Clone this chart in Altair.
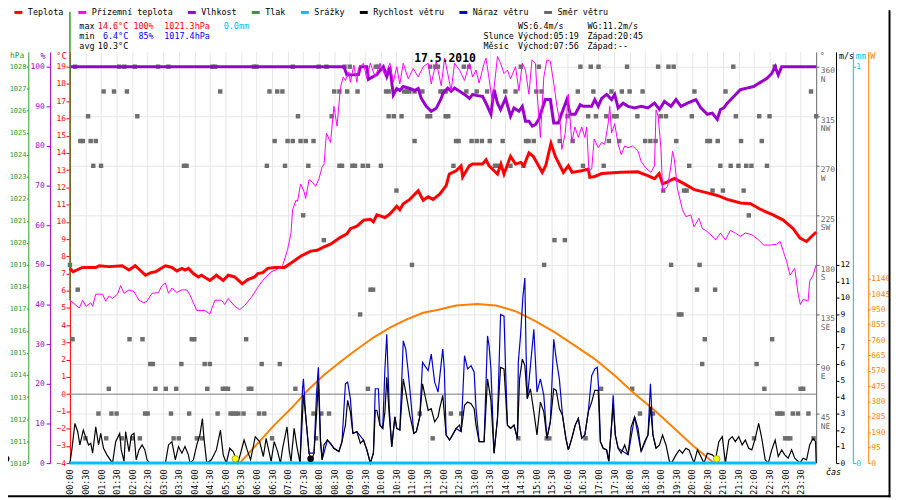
import altair as alt
import pandas as pd

MONO = "DejaVu Sans Mono"
FS = 8.5
AFS = 8

# ---------------- data ----------------
series_names = ["Teplota", "Přízemní teplota", "Vlhkost", "Tlak", "Srážky",
                "Rychlost větru", "Náraz větru", "Směr větru"]
series_colors = ["#ff0000", "#ff00ff", "#9900cc", "#339933", "#00bfff",
                 "#000000", "#0000cc", "#666666"]

# (hour, °C)
temperature = [(0.0, 7.3), (0.1, 7.1), (0.4, 7.35), (0.83, 7.35), (0.94, 7.45), (1.26, 7.4), (1.68, 7.45),
               (1.9, 7.2), (2.1, 7.45), (2.43, 6.9), (2.6, 7.05), (2.75, 7.1), (3.07, 7.45), (3.28, 7.35),
               (3.44, 7.15), (3.6, 7.3), (3.7, 7.2), (3.81, 7.3), (3.97, 7.0), (4.13, 6.8), (4.23, 6.9),
               (4.5, 6.6), (4.71, 6.9), (4.93, 6.6), (5.09, 6.9), (5.3, 6.8), (5.54, 6.4), (5.72, 6.65),
               (5.94, 6.8), (6.04, 7.0), (6.2, 7.05), (6.36, 7.3), (6.58, 7.35), (6.9, 7.35), (7.1, 7.6),
               (7.42, 8.0), (7.74, 8.3), (7.95, 8.35), (8.17, 8.55), (8.38, 8.7), (8.7, 9.1), (8.91, 9.3),
               (9.02, 9.6), (9.23, 9.75), (9.45, 10.1), (9.66, 10.15), (9.76, 10.0), (9.87, 10.4),
               (10.13, 10.25), (10.29, 10.45), (10.51, 10.9), (10.61, 10.7), (10.72, 11.05), (10.93, 11.3),
               (11.2, 11.8), (11.36, 11.25), (11.52, 11.45), (11.68, 11.3), (11.89, 11.6), (12.1, 12.1),
               (12.2, 12.77), (12.42, 12.96), (12.58, 13.25), (12.63, 12.6), (12.84, 13.25), (12.95, 13.35),
               (13.27, 13.35), (13.38, 13.6), (13.48, 13.25), (13.64, 12.96), (13.75, 12.77), (13.86, 13.35),
               (13.96, 12.77), (14.17, 13.8), (14.33, 13.35), (14.5, 13.45), (14.6, 13.25), (14.76, 14.0),
               (14.9, 13.8), (15.19, 12.87), (15.3, 13.25), (15.47, 14.55), (15.61, 13.8), (15.87, 12.87),
               (16.03, 13.25), (16.15, 12.87), (16.46, 12.96), (16.67, 13.06), (16.72, 12.58), (16.88, 12.63),
               (17.1, 12.8), (17.73, 12.87), (18.26, 12.9), (18.58, 12.68), (18.8, 12.5), (18.95, 12.8),
               (19.06, 12.2), (19.2, 12.3), (19.44, 12.52), (19.76, 12.2), (20.08, 11.87), (20.5, 11.68),
               (20.82, 11.53), (21.14, 11.3), (21.57, 11.09), (21.89, 11.05), (22.2, 10.73), (22.63, 10.39),
               (22.94, 10.1), (23.26, 9.6), (23.48, 9.05), (23.69, 8.86), (23.85, 9.15), (24.0, 9.4)]

# (hour, °C)
ground_temperature = [
    (0.0, 5.4), (0.04, 5.39), (0.3, 5.0), (0.41, 5.45), (0.52, 5.1), (0.67, 5.3), (0.73, 5.1), (0.83, 5.8),
    (1.05, 5.8), (1.15, 5.39), (1.26, 5.7), (1.37, 5.55), (1.53, 5.8), (1.63, 6.3), (1.74, 5.85), (1.9, 6.05),
    (2.06, 5.95), (2.22, 5.45), (2.38, 5.3), (2.48, 5.4), (2.64, 5.85), (2.85, 5.9), (2.96, 6.3), (3.07, 6.45),
    (3.17, 5.85), (3.28, 6.15), (3.44, 5.9), (3.6, 6.05), (3.76, 6.05), (3.86, 5.75), (4.08, 4.85), (4.34, 4.85),
    (4.5, 4.65), (4.66, 5.45), (4.87, 5.45), (4.98, 5.2), (5.09, 5.55), (5.3, 5.1), (5.46, 4.9), (5.62, 5.15),
    (5.83, 5.6), (6.04, 6.2), (6.2, 6.6), (6.47, 7.1), (6.68, 7.25), (6.84, 7.45), (7.0, 8.4), (7.11, 9.35),
    (7.16, 10.7), (7.27, 11.25), (7.32, 11.2), (7.42, 12.2), (7.53, 11.75), (7.58, 11.35), (7.69, 12.45),
    (7.8, 12.3), (7.9, 12.05), (8.01, 12.5), (8.12, 13.25), (8.17, 13.3), (8.25, 15.15), (8.38, 14.6),
    (8.49, 16.7), (8.59, 15.55), (8.7, 17.8), (8.79, 18.4), (8.86, 18.2), (8.97, 18.7), (9.02, 18.1),
    (9.13, 19.1), (9.23, 18.1), (9.28, 18.9), (9.44, 19.2), (9.55, 18.3), (9.66, 19.2), (9.82, 18.4),
    (9.97, 19.2), (10.13, 18.5), (10.29, 19.2), (10.4, 18.1), (10.51, 19.0), (10.61, 18.0), (10.72, 19.2),
    (10.88, 18.3), (11.04, 18.9), (11.2, 18.4), (11.36, 19.0), (11.52, 19.2), (11.62, 18.0), (11.78, 19.3),
    (11.94, 17.9), (12.05, 19.5), (12.15, 18.6), (12.26, 17.6), (12.37, 19.2), (12.53, 18.8), (12.69, 18.2),
    (12.85, 19.2), (12.95, 18.4), (13.06, 18.8), (13.16, 18.05), (13.32, 19.2), (13.38, 19.5), (13.48, 18.3),
    (13.59, 16.9), (13.75, 19.6), (13.85, 19.2), (13.96, 18.6), (14.07, 18.8), (14.17, 18.3), (14.33, 19.0),
    (14.44, 17.6), (14.55, 19.2), (14.65, 18.8), (14.76, 17.4), (14.86, 19.4), (14.97, 19.2), (15.02, 17.6),
    (15.13, 14.9), (15.24, 18.4), (15.34, 19.4), (15.45, 19.3), (15.56, 18.05), (15.66, 16.7), (15.77, 15.7),
    (15.82, 14.2), (15.93, 15.15), (16.03, 17.4), (16.14, 14.6), (16.24, 15.5), (16.35, 14.9), (16.46, 15.5),
    (16.56, 14.9), (16.62, 15.5), (16.69, 12.96), (16.78, 13.06), (16.86, 14.8), (16.99, 14.3), (17.1, 14.6),
    (17.2, 14.5), (17.31, 15.7), (17.36, 16.7), (17.42, 15.15), (17.52, 15.7), (17.63, 14.5), (17.73, 13.9),
    (17.84, 14.4), (17.95, 14.3), (18.1, 14.4), (18.27, 14.1), (18.37, 13.5), (18.53, 13.1), (18.69, 12.87),
    (18.8, 13.25), (18.85, 16.5), (18.92, 16.1), (19.01, 14.2), (19.06, 11.8), (19.22, 12.05), (19.33, 13.25),
    (19.38, 14.1), (19.44, 13.6), (19.54, 11.9), (19.7, 10.7), (19.81, 10.3), (19.97, 10.4), (20.07, 9.7),
    (20.23, 10.2), (20.34, 9.6), (20.45, 9.5), (20.61, 9.25), (20.77, 8.95), (20.92, 9.35), (21.08, 8.95),
    (21.24, 9.5), (21.4, 9.35), (21.56, 9.15), (21.72, 9.35), (21.93, 9.25), (22.15, 8.95), (22.31, 8.65),
    (22.52, 8.65), (22.73, 8.7), (22.84, 8.86), (22.94, 8.3), (23.05, 7.7), (23.16, 6.9), (23.31, 7.3),
    (23.42, 5.8), (23.49, 5.2), (23.58, 5.5), (23.74, 5.4), (23.79, 6.55), (23.9, 6.9), (24.0, 7.5)]

# (hour, %)
humidity = [(0.0, 100), (8.81, 100), (8.91, 97.9), (9.23, 98), (9.28, 98), (9.34, 100), (9.55, 100), (9.6, 96.8),
            (9.87, 98), (9.97, 99), (10.08, 100), (10.19, 97.5), (10.29, 99.9), (10.4, 92.9), (10.51, 94.5),
            (10.61, 94), (10.72, 95), (10.93, 94.5), (11.09, 94), (11.2, 94.5), (11.3, 92), (11.46, 90),
            (11.62, 88.75), (11.78, 89.5), (11.94, 92), (12.0, 93.3), (12.15, 94.6), (12.26, 93.8), (12.37, 94.6),
            (12.53, 93.8), (12.69, 93), (12.85, 92), (12.95, 93), (13.11, 92.7), (13.27, 92.5), (13.38, 90.8),
            (13.54, 88), (13.64, 94.2), (13.75, 90.8), (13.85, 89.2), (14.01, 92), (14.17, 87.5), (14.28, 89.6),
            (14.44, 88.75), (14.55, 90), (14.65, 86.25), (14.76, 86.25), (14.87, 85), (14.97, 85.4),
            (15.08, 86.7), (15.18, 89.2), (15.29, 91.7), (15.45, 91.7), (15.56, 85.8), (15.71, 85.8),
            (15.82, 88.3), (15.98, 91.7), (16.09, 88), (16.25, 88), (16.41, 90.4), (16.51, 90), (16.78, 90),
            (16.88, 91.7), (16.99, 90), (17.1, 92), (17.26, 93), (17.42, 91.7), (17.52, 93), (17.63, 89.6),
            (17.79, 90.8), (17.95, 90), (18.16, 89.6), (18.37, 90), (18.59, 89.6), (18.8, 90.8), (18.96, 89.2),
            (19.12, 91.25), (19.33, 90), (19.49, 91.7), (19.65, 90), (19.86, 90.8), (20.13, 91.7), (20.29, 89.6),
            (20.5, 88), (20.66, 88.3), (20.82, 86.7), (20.92, 89.2), (21.03, 89.6), (21.14, 90.8), (21.35, 92.5),
            (21.56, 94.2), (21.77, 94.6), (21.99, 95), (22.15, 95.8), (22.41, 97), (22.57, 98.3), (22.68, 100),
            (22.78, 97.9), (22.89, 100), (24.0, 100)]

# (hour, hPa) – the pressure trace only appears as a vertical stroke at midnight
pressure = [(0.0, 1030.5), (0.0, 1017.4)]

# (hour, mm)
rain = [(0.0, 0.0), (24.0, 0.0)]

# (hour, m/s)
wind_speed = [
    (0.0, 0), (0.06, 0.8), (0.16, 2.4), (0.25, 1.9), (0.32, 1.1), (0.43, 2.0), (0.52, 1.5), (0.6, 1.1),
    (0.67, 1.2), (0.73, 0.6), (0.83, 2.2), (0.92, 1.1), (0.99, 1.8), (1.08, 0.9), (1.19, 0.5), (1.26, 0.3),
    (1.37, 0), (1.47, 1.3), (1.6, 1.8), (1.65, 0.8), (1.74, 0.1), (1.79, 1.9), (1.9, 0.7), (1.98, 1.7),
    (2.06, 1.8), (2.13, 0.2), (2.22, 0.8), (2.32, 1.1), (2.41, 0.8), (2.48, 0.2), (2.56, 0), (3.07, 0),
    (3.17, 1.1), (3.28, 1.3), (3.39, 0.2), (3.49, 1.0), (3.6, 0.6), (3.7, 1.0), (3.81, 0.5), (3.86, 0),
    (3.97, 0.2), (4.08, 1.1), (4.18, 1.7), (4.26, 2.7), (4.31, 1.5), (4.4, 0), (4.55, 0.2), (4.71, 0.8),
    (4.84, 2.0), (4.93, 0.5), (5.03, 0), (5.14, 0.9), (5.25, 0.7), (5.4, 0), (5.49, 0.6), (5.6, 1.4),
    (5.7, 0.8), (5.81, 0.2), (5.96, 1.6), (6.1, 1.3), (6.22, 0.4), (6.31, 1.5), (6.47, 0.1), (6.57, 1.3),
    (6.68, 0.7), (6.77, 0), (6.84, 0.9), (6.98, 2.2), (7.05, 0.8), (7.11, 0.1), (7.21, 2.1), (7.3, 1.0),
    (7.4, 0), (7.51, 4.1), (7.58, 2.9), (7.69, 0.6), (7.76, 0.1), (7.85, 0.6), (7.93, 2.9), (7.99, 4.9),
    (8.06, 1.3), (8.11, 0.2), (8.17, 1.1), (8.28, 1.4), (8.38, 1.2), (8.49, 0.9), (8.65, 0.7), (8.75, 1.3),
    (8.86, 2.3), (8.93, 3.8), (9.02, 3.1), (9.1, 1.8), (9.23, 1.9), (9.34, 1.2), (9.44, 1.4), (9.55, 0.8),
    (9.66, 0), (9.76, 0.6), (9.82, 3.2), (9.87, 3.2), (9.97, 2.3), (10.06, 2.1), (10.13, 3.1), (10.19, 5.2),
    (10.27, 2.9), (10.35, 1.0), (10.45, 2.8), (10.51, 2.1), (10.61, 2.0), (10.72, 5.1), (10.8, 4.3),
    (10.93, 2.9), (11.06, 1.8), (11.14, 1.9), (11.25, 2.8), (11.34, 4.8), (11.44, 3.9), (11.52, 3.2),
    (11.62, 3.3), (11.73, 2.5), (11.84, 2.8), (11.89, 3.3), (11.99, 4.1), (12.1, 1.7), (12.21, 1.4),
    (12.31, 1.7), (12.42, 2.1), (12.53, 2.3), (12.58, 1.9), (12.69, 3.5), (12.79, 3.7), (12.9, 3.6),
    (13.0, 3.3), (13.06, 2.3), (13.16, 1.3), (13.32, 1.3), (13.43, 5.1), (13.54, 3.8), (13.64, 0.6),
    (13.75, 2.7), (13.85, 5.8), (13.96, 5.7), (14.07, 2.3), (14.17, 2.1), (14.28, 2.3), (14.39, 1.5),
    (14.46, 5.1), (14.55, 6.3), (14.63, 5.9), (14.71, 3.9), (14.81, 4.5), (14.92, 3.1), (15.02, 1.7),
    (15.13, 3.7), (15.24, 3.1), (15.34, 1.5), (15.45, 2.5), (15.56, 4.5), (15.64, 4.4), (15.74, 3.3),
    (15.84, 2.9), (15.95, 1.5), (16.03, 0.8), (16.14, 1.5), (16.25, 2.3), (16.35, 2.7), (16.46, 1.5),
    (16.56, 1.7), (16.67, 3.1), (16.78, 3.7), (16.88, 4.4), (16.99, 4.4), (17.06, 1.3), (17.15, 0.9),
    (17.26, 0.8), (17.33, 0.1), (17.42, 2.3), (17.47, 3.5), (17.54, 1.7), (17.63, 0.9), (17.73, 0.6),
    (17.84, 1.1), (17.95, 0.5), (18.05, 2.2), (18.16, 2.8), (18.27, 2.1), (18.37, 0.7), (18.48, 1.3),
    (18.59, 1.7), (18.67, 3.4), (18.75, 1.7), (18.85, 0.9), (18.96, 1.1), (19.06, 1.7), (19.17, 1.1),
    (19.28, 0.1), (19.35, 0), (19.49, 0.5), (19.6, 0.8), (19.7, 0.6), (19.81, 0.9), (19.91, 0.8), (20.07, 0),
    (20.18, 0.8), (20.29, 0.4), (20.39, 0), (20.5, 0.6), (20.66, 0.5), (20.77, 0.3), (20.87, 1.3),
    (20.98, 1.6), (21.08, 0), (21.19, 1.4), (21.3, 1.6), (21.4, 1.3), (21.51, 1.6), (21.62, 1.1), (21.72, 1.4),
    (21.83, 0.9), (21.93, 0.8), (22.04, 1.5), (22.15, 2.4), (22.25, 1.5), (22.36, 0.2), (22.46, 0),
    (22.57, 0.8), (22.68, 1.4), (22.78, 0.4), (22.89, 0.8), (22.99, 0.5), (23.1, 0.3), (23.21, 0.8),
    (23.31, 0.3), (23.48, 0), (23.58, 0.3), (23.69, 0.2), (23.79, 1.1), (23.9, 1.5), (23.98, 1.3), (24.0, 0)]

# (hour, m/s)
wind_gust = [
    (7.4, 0), (7.48, 4.5), (7.51, 5.1), (7.58, 2.9), (7.69, 0.6), (7.85, 0.6), (7.93, 4.2), (7.99, 5.8),
    (8.06, 1.3), (8.11, 0.2), (8.28, 1.4), (8.49, 0.9), (8.65, 0.7), (8.75, 1.3), (8.86, 4.8), (8.93, 4.9),
    (9.02, 3.9), (9.1, 1.8), (9.23, 1.9), (9.44, 1.4), (9.55, 0.8), (9.66, 0), (9.76, 0.6), (9.82, 4.5),
    (9.92, 4.5), (9.97, 2.3), (10.06, 2.1), (10.13, 5.7), (10.19, 7.8), (10.27, 3.3), (10.35, 1.0),
    (10.45, 2.8), (10.51, 2.1), (10.61, 2.0), (10.72, 7.4), (10.8, 6.9), (10.87, 5.7), (10.93, 4.5),
    (11.06, 1.8), (11.14, 1.9), (11.25, 2.8), (11.34, 6.1), (11.41, 5.9), (11.52, 5.6), (11.62, 6.6),
    (11.73, 4.9), (11.84, 4.3), (11.99, 6.9), (12.04, 5.7), (12.1, 1.7), (12.21, 1.4), (12.42, 2.1),
    (12.58, 1.9), (12.69, 6.5), (12.79, 5.7), (12.9, 5.9), (13.0, 5.5), (13.06, 3.3), (13.16, 1.3),
    (13.32, 1.3), (13.43, 7.7), (13.48, 7.1), (13.54, 5.7), (13.64, 0.6), (13.75, 2.7), (13.85, 9.0),
    (13.96, 8.9), (14.01, 5.7), (14.07, 2.3), (14.17, 2.1), (14.28, 2.3), (14.39, 1.5), (14.42, 6.1),
    (14.49, 7.7), (14.57, 10.1), (14.63, 11.2), (14.67, 6.7), (14.71, 3.9), (14.81, 5.9), (14.92, 8.1),
    (15.02, 4.3), (15.13, 5.1), (15.24, 4.1), (15.34, 1.5), (15.45, 2.5), (15.56, 7.5), (15.64, 6.3),
    (15.74, 5.1), (15.84, 2.9), (15.95, 1.5), (16.03, 0.8), (16.14, 1.5), (16.25, 2.3), (16.35, 2.7),
    (16.46, 1.5), (16.56, 1.7), (16.67, 3.1), (16.78, 5.3), (16.88, 5.7), (16.96, 5.8), (17.01, 4.3),
    (17.06, 1.3), (17.15, 0.9), (17.26, 0.8), (17.33, 0.1), (17.42, 2.3), (17.47, 4.1), (17.54, 1.7),
    (17.63, 0.9), (17.95, 0.5), (18.16, 2.8), (18.37, 0.7), (18.59, 1.7), (18.67, 4.8), (18.75, 1.7),
    (18.85, 0.9)]

# (hour, W/m2)
solar = [(5.46, 0), (6.04, 122), (6.57, 235), (7.11, 337), (7.64, 449), (8.17, 545), (8.7, 627), (9.23, 704),
         (9.76, 776), (10.29, 837), (10.83, 888), (11.36, 929), (11.78, 945), (12.42, 974), (13.1, 984),
         (13.7, 974), (14.33, 939), (14.97, 878), (15.61, 806), (16.25, 725), (16.88, 643), (17.52, 541),
         (18.16, 429), (18.8, 327), (19.44, 214), (20.07, 102), (20.71, 0)]

# wind direction (degrees) -> minutes of the day when it was recorded
wind_direction = {
    360: [10, 95, 105, 125, 170, 190, 275, 280, 355, 360, 430, 480, 495, 530, 540, 590, 595, 695, 705, 710,
          760, 770, 870, 905, 985, 1005, 1020, 1075, 1135, 1155, 1165, 1280, 1360],
    337.5: [65, 85, 110, 290, 385, 400, 410, 510, 520, 535, 555, 610, 615, 645, 650, 655, 665, 680, 715, 720,
            725, 765, 785, 805, 840, 860, 900, 910, 980, 1010, 1045, 1065, 1080, 1105, 1205, 1265, 1430],
    315: [35, 130, 440, 505, 615, 625, 640, 690, 695, 725, 730, 960, 1000, 1015, 1035, 1050, 1055, 1095,
          1140, 1150, 1200, 1285, 1330, 1350, 1440],
    292.5: [20, 25, 40, 50, 395, 420, 430, 445, 455, 470, 665, 745, 750, 775, 785, 795, 810, 835, 880, 885,
            895, 945, 970, 1040, 1060, 1110, 1120, 1130, 1170, 1230, 1235, 1250, 1295, 1335],
    270: [45, 60, 220, 225, 380, 415, 460, 520, 525, 545, 550, 565, 575, 600, 740, 820, 825, 850, 875, 990,
          1030, 1195, 1255, 1275, 1290, 1305, 1315, 1345],
    247.5: [630, 1145, 1185, 1190, 1240, 1260, 1300],
    225: [450, 1310],
    202.5: [490, 935, 955],
    180: [0, 660, 915, 1160, 1215],
    157.5: [15, 580, 585, 1210, 1245],
    135: [560, 1175, 1180],
    112.5: [5, 115, 140, 235, 240, 340, 1225, 1355],
    90: [155, 160, 215, 260, 270, 370, 405, 1220, 1325],
    67.5: [75, 165, 185, 205, 265, 295, 300, 305, 345, 350, 435, 575, 1025, 1085, 1340, 1410, 1415],
    45: [55, 80, 90, 145, 150, 195, 230, 285, 310, 315, 320, 325, 335, 365, 375, 470, 485, 500, 675, 735,
         755, 1100, 1125, 1365, 1370, 1375, 1395, 1405, 1425],
    22.5: [30, 70, 100, 120, 135, 200, 210, 245, 255, 390, 475, 700, 865, 920, 925, 995, 1320, 1380, 1385,
           1390, 1435],
}

sun_marker_hours = [5.32, 20.8]
moon_marker_hours = [-2.05, 7.74]

max_values = ["14.6°C", "100%", "1021.3hPa", "0.0mm"]
min_values = ["6.4°C", "85%", "1017.4hPa"]
avg_values = ["10.3°C"]
wind_extremes = ["WS:6.4m/s", "WG:11.2m/s"]
sun_info = ["Slunce", "Východ:05:19", "Západ:20:45"]
moon_info = ["Měsíc", "Východ:07:56", "Západ:--"]
date_title = "17.5.2010"

time_ticks = [i / 2 for i in range(48)]
temp_ticks = list(range(-4, 20))
hum_ticks = list(range(0, 101, 10))
press_ticks = list(range(1010, 1029))
dir_ticks = [45, 90, 135, 180, 225, 270, 315, 360]
speed_ticks = list(range(0, 13))
rain_ticks = [0, 1]
solar_ticks = list(range(0, 1141, 95))


def frame(pairs, name):
    return pd.DataFrame({"h": [p[0] for p in pairs], "v": [p[1] for p in pairs], "series": name})


# ---------------- scales / axes ----------------
X_ENC = alt.X(
    "h:Q",
    scale=alt.Scale(domain=[0, 24], nice=False, zero=False),
    axis=alt.Axis(values=time_ticks,
                  labelExpr="pad(toString(floor(datum.value)), 2, '0', 'left') + ':' + (datum.value % 1 > 0 ? '30' : '00')",
                  labelAngle=270, labelFont=MONO, labelFontSize=FS, labelColor="black",
                  labelPadding=6, tickSize=0, domain=False, grid=True, gridColor="#e6e6e6",
                  labelOverlap=False, labelFlush=False, labelBound=False,
                  title="čas", titleFont=MONO, titleFontSize=FS, titleFontWeight="normal",
                  titleFontStyle="italic", titleX=770, titleY=9, titleAlign="center",
                  titleBaseline="middle", titleAngle=0),
)

S_TEMP = alt.Scale(domain=[-4, 19.8625], nice=False, zero=False)
S_HUM = alt.Scale(domain=[0, 103.75], nice=False, zero=False)
S_PRESS = alt.Scale(domain=[1010, 1028.675], nice=False, zero=False)
S_DIR = alt.Scale(domain=[0, 373.5], nice=False, zero=False)
S_SPEED = alt.Scale(domain=[0, 24.9], nice=False, zero=False)
S_RAIN = alt.Scale(domain=[0, 1.0375], nice=False, zero=False)
S_SOLAR = alt.Scale(domain=[0, 2541.9], nice=False, zero=False)


def y_axis(orient, offset, values, color, title, title_x, tick_size, label_pad, **extra):
    kw = dict(orient=orient, offset=offset, values=values, domainColor=color, tickColor=color,
              labelColor=color, titleColor=color, labelFont=MONO, labelFontSize=AFS,
              titleFont=MONO, titleFontSize=FS, titleFontWeight="normal", tickSize=tick_size,
              labelPadding=label_pad, title=title, titleAngle=0, titleBaseline="middle", titleY=4,
              titleX=title_x, titleAlign="right" if orient == "left" else "left",
              labelOverlap=False, labelFlush=False, labelBound=False, grid=False, format="d")
    kw.update(extra)
    return alt.Axis(**kw)


COLOR = alt.Color(
    "series:N",
    scale=alt.Scale(domain=series_names, range=series_colors),
    legend=alt.Legend(orient="none", legendX=-57.5, legendY=-45.5, direction="horizontal", columns=8,
                      symbolType="stroke", symbolStrokeWidth=3, symbolSize=64, labelFont=MONO,
                      labelFontSize=FS, labelColor="black", columnPadding=8.5, padding=0,
                      labelOffset=4, title=None),
)

layers = []

# wind direction squares (carry the degree axis + horizontal grid)
dir_df = pd.DataFrame([(m / 60, d) for d, mins in wind_direction.items() for m in mins], columns=["h", "deg"])
layers.append(
    alt.Chart(dir_df).mark_square(size=20, color="#6e6e6e", opacity=1).encode(
        x=X_ENC,
        y=alt.Y("deg:Q", scale=S_DIR,
                axis=y_axis("right", 0, dir_ticks, "#666666", "°", 3, 3, 1, grid=True, gridColor="#e6e6e6",
                            labelExpr="[datum.label, ['', 'NE', 'E', 'SE', 'S', 'SW', 'W', 'NW', 'N'][round(datum.value / 45)]]",
                            labelLineHeight=8.5, labelOffset=4.25, labelBaseline="middle")),
    )
)

# 0 °C reference line
layers.append(
    alt.Chart(pd.DataFrame({"t": [0]})).mark_rule(color="#777777", strokeWidth=1).encode(
        y=alt.Y("t:Q", scale=S_TEMP, axis=None))
)

# humidity
layers.append(
    alt.Chart(frame(humidity, "Vlhkost")).mark_line(strokeWidth=3, interpolate="linear").encode(
        x=X_ENC, y=alt.Y("v:Q", scale=S_HUM, axis=y_axis("left", 20, hum_ticks, "#9900cc", "%", -5, 4, 2)),
        color=COLOR)
)

# pressure
layers.append(
    alt.Chart(frame(pressure, "Tlak")).mark_line(strokeWidth=1.5).encode(
        x=X_ENC,
        y=alt.Y("v:Q", scale=S_PRESS,
                axis=y_axis("left", 42, press_ticks, "#339933", "hPa", -4.5, 2, 0.5,
                            labelFontSize=7, titleFontSize=8)),
        color=COLOR)
)

# temperature
layers.append(
    alt.Chart(frame(temperature, "Teplota")).mark_line(strokeWidth=3).encode(
        x=X_ENC, y=alt.Y("v:Q", scale=S_TEMP, axis=y_axis("left", 0, temp_ticks, "#ff0000", "°C", -4, 4, 0.5)),
        color=COLOR)
)

# ground temperature
layers.append(
    alt.Chart(frame(ground_temperature, "Přízemní teplota")).mark_line(strokeWidth=1).encode(
        x=X_ENC, y=alt.Y("v:Q", scale=S_TEMP, axis=None), color=COLOR)
)

# solar radiation
layers.append(
    alt.Chart(frame(solar, "Sluneční záření")).mark_line(strokeWidth=2, color="#ff8000").encode(
        x=X_ENC,
        y=alt.Y("v:Q", scale=S_SOLAR, axis=y_axis("right", 52.5, solar_ticks, "#ff8000", "W", 1.5, 2, 0.5)))
)

# wind gust
layers.append(
    alt.Chart(frame(wind_gust, "Náraz větru")).mark_line(strokeWidth=1.2).encode(
        x=X_ENC, y=alt.Y("v:Q", scale=S_SPEED, axis=None), color=COLOR)
)

# wind speed
layers.append(
    alt.Chart(frame(wind_speed, "Rychlost větru")).mark_line(strokeWidth=1.2).encode(
        x=X_ENC, y=alt.Y("v:Q", scale=S_SPEED, axis=y_axis("right", 20, speed_ticks, "#000000", "m/s", 2.5, 3, 1)),
        color=COLOR)
)

# rain
layers.append(
    alt.Chart(frame(rain, "Srážky")).mark_line(strokeWidth=3).encode(
        x=X_ENC, y=alt.Y("v:Q", scale=S_RAIN, axis=y_axis("right", 37, rain_ticks, "#00bfff", "mm", 2.5, 3, 0)),
        color=COLOR)
)

# sun / moon markers
layers.append(
    alt.Chart(pd.DataFrame({"h": sun_marker_hours})).mark_circle(
        size=44, color="#ffff00", stroke="#9a9a20", strokeWidth=0.8, opacity=1).encode(
        x=X_ENC, y=alt.YDatum(0.26, scale=S_SPEED, axis=None))
)
layers.append(
    alt.Chart(pd.DataFrame({"h": moon_marker_hours})).mark_circle(
        size=44, color="#000000", opacity=1).encode(
        x=X_ENC, y=alt.YDatum(0.26, scale=S_SPEED, axis=None))
)

# picture frame (bottom and right edges)
layers.append(
    alt.Chart(pd.DataFrame({"f": [0]})).mark_rule(color="#000000", strokeWidth=2).encode(
        x=alt.value(-62.5), x2=alt.value(828), y=alt.value(448.5))
)
layers.append(
    alt.Chart(pd.DataFrame({"f": [0]})).mark_rule(color="#000000", strokeWidth=2).encode(
        x=alt.value(827), y=alt.value(-42), y2=alt.value(449.5))
)


def label(text, x, y, color="black", size=FS, weight="normal", align="left"):
    return alt.Chart(pd.DataFrame({"t": [text]})).mark_text(
        align=align, baseline="middle", font=MONO, fontSize=size, fontWeight=weight, color=color
    ).encode(text="t:N", x=alt.value(x), y=alt.value(y))


RED, BLUE, CYAN = "#ff0000", "#0000ff", "#00bfff"
layers += [
    label("max", 9.5, -26), label(max_values[0], 58.8, -26, RED, align="right"),
    label(max_values[1], 84.5, -26, RED, align="right"), label(max_values[2], 95.2, -26, RED),
    label(max_values[3], 155.2, -26, CYAN),
    label("min", 9.5, -16), label(min_values[0], 58.8, -16, BLUE, align="right"),
    label(min_values[1], 84.5, -16, BLUE, align="right"), label(min_values[2], 95.2, -16, BLUE),
    label("avg", 9.5, -6), label(avg_values[0], 58.8, -6, align="right"),
    label(wind_extremes[0], 452.2, -26), label(wind_extremes[1], 522.2, -26),
    label(sun_info[0], 417.2, -16), label(sun_info[1], 452.2, -16), label(sun_info[2], 522.2, -16),
    label(moon_info[0], 417.2, -6), label(moon_info[1], 452.2, -6), label(moon_info[2], 522.2, -6),
    label(date_title, 378.5, 7, size=11.5, weight="bold", align="center"),
]

chart = alt.layer(*layers).resolve_scale(y="independent").properties(
    width=753, height=415,
    padding={"left": 62.5, "top": 42, "right": 76.5, "bottom": 35},
    autosize=alt.AutoSizeParams(type="none"),
).configure_view(strokeWidth=0)

chart.save("out.html", embed_options={"renderer": "svg", "actions": False})
